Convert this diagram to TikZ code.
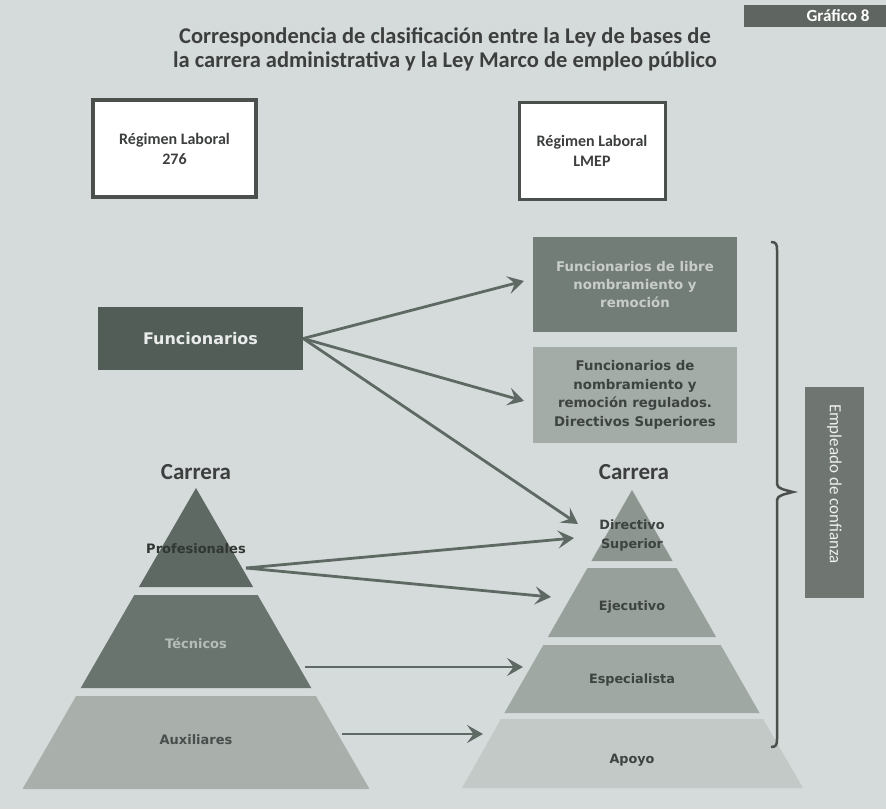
\documentclass[tikz,border=0pt]{standalone}
\usepackage{fontspec}
\setmainfont{Carlito}
\newfontfamily\lbl{DejaVu Sans}
\usetikzlibrary{arrows.meta}
\definecolor{bg}{HTML}{D5DBDA}
\definecolor{grafc}{HTML}{5F6662}
\definecolor{titlec}{HTML}{3C3F3E}
\definecolor{boxline}{HTML}{4B504D}
\definecolor{librec}{HTML}{737D77}
\definecolor{libretxt}{HTML}{C9CDCA}
\definecolor{regc}{HTML}{A4ACA7}
\definecolor{darktxt}{HTML}{3D4340}
\definecolor{funcc}{HTML}{525D58}
\definecolor{arrc}{HTML}{5E6964}
\definecolor{lpa}{HTML}{5E6963}
\definecolor{lpb}{HTML}{6A746F}
\definecolor{lpc}{HTML}{A9B0AC}
\definecolor{rpa}{HTML}{8C9590}
\definecolor{rpb}{HTML}{98A09B}
\definecolor{rpc}{HTML}{A0A8A3}
\definecolor{rpd}{HTML}{C3C9C6}
\definecolor{empc}{HTML}{6F7672}
\begin{document}
\begin{tikzpicture}[x=1pt,y=-1pt,
  arr/.style={draw=arrc, line width=2.8pt, -{Stealth[length=16pt,width=18pt,inset=6.5pt]}},
  regbox/.style={draw=boxline, fill=white, align=center, text=titlec,
     font=\bfseries\fontsize{16}{20}\selectfont},
  plabel/.style={font=\lbl\bfseries\fontsize{12.8}{19}\selectfont, text=darktxt, align=center},
  llabel/.style={font=\lbl\bfseries\fontsize{13}{15}\selectfont, align=center},
  carr/.style={font=\bfseries\fontsize{23}{26}\selectfont, text=titlec}
]
\useasboundingbox (0,0) rectangle (886,809);
\fill[bg] (0,0) rectangle (886,809);

% header
\node[fill=grafc, minimum width=142pt, minimum height=22pt, inner sep=0pt] (graf) at (815,16) {};
\node[text=white, font=\bfseries\fontsize{17}{19}\selectfont, inner sep=0pt] (graft) at (838,16) {Gráfico 8};
\node[align=center, text=titlec, font=\bfseries\fontsize{22.5}{24}\selectfont] (title) at (445,49)
  {Correspondencia de clasificación entre la Ley de bases de\\la carrera administrativa y la Ley Marco de empleo público};

% regime boxes
\node[regbox, line width=4pt, minimum width=163pt, minimum height=97pt] (r276) at (174.5,148.5) {Régimen Laboral\\276};
\node[regbox, line width=3pt, minimum width=146pt, minimum height=97pt] (rlmep) at (592,150.5) {Régimen Laboral\\LMEP};

% right boxes
\node[fill=librec, minimum width=204pt, minimum height=95pt, align=center, text=libretxt,
      font=\lbl\bfseries\fontsize{13.3}{18}\selectfont] (libre) at (635,284.5)
  {Funcionarios de libre\\nombramiento y\\remoción};
\node[fill=regc, minimum width=204pt, minimum height=96pt, align=center, text=darktxt,
      font=\lbl\bfseries\fontsize{13.3}{18.5}\selectfont] (regul) at (635,395)
  {Funcionarios de\\nombramiento y\\remoción regulados.\\Directivos Superiores};

% Funcionarios
\node[fill=funcc, minimum width=205pt, minimum height=63pt, text=white!88!funcc,
      font=\lbl\bfseries\fontsize{16}{18}\selectfont] (func) at (200.5,338.5) {Funcionarios};

% left pyramid
\fill[lpa] (196,488) -- (253.1,587) -- (138.9,587) -- cycle;
\fill[lpb] (134.3,595) -- (257.7,595) -- (311.3,688) -- (80.7,688) -- cycle;
\fill[lpc] (76.1,696) -- (315.9,696) -- (369.5,789) -- (22.5,789) -- cycle;
\node[carr] (lcar) at (196,472) {Carrera};
\node[llabel, text=darktxt!80!black] (lprof) at (196,549) {Profesionales};
\node[llabel, text=lpc!85!white] (ltec) at (196,643) {Técnicos};
\node[llabel, text=darktxt!90!lpc] (laux) at (196,740) {Auxiliares};

% right pyramid
\fill[rpa] (632,490) -- (672.6,561) -- (591.4,561) -- cycle;
\fill[rpb] (587.4,568) -- (676.6,568) -- (716.1,637) -- (547.9,637) -- cycle;
\fill[rpc] (543.3,645) -- (720.7,645) -- (759.6,713) -- (504.4,713) -- cycle;
\fill[rpd] (501,719) -- (763,719) -- (803,788) -- (462,788) -- cycle;
\node[carr] (rcar) at (634,472) {Carrera};
\node[plabel] (rdir) at (632,535) {Directivo\\Superior};
\node[plabel] (reje) at (632,607) {Ejecutivo};
\node[plabel] (resp) at (632,680) {Especialista};
\node[plabel] (rapo) at (632,760) {Apoyo};

% connector end points
\coordinate (tLibre) at (524,281);
\coordinate (tRegul) at (524,401);
\coordinate (tDir1) at (578,524);
\coordinate (sProf) at (246,568);
\coordinate (tDir2) at (574,538);
\coordinate (tEje) at (551,597);
\coordinate (sTec) at (305,667);
\coordinate (tEsp) at (523,667);
\coordinate (sAux) at (342,734);
\coordinate (tApo) at (483,734);

\draw[arr] (func.east) -- (tLibre);
\draw[arr] (func.east) -- (tRegul);
\draw[arr] (func.east) -- (tDir1);
\draw[arr] (sProf) -- (tDir2);
\draw[arr] (sProf) -- (tEje);
\draw[arr] (sTec) -- (tEsp);
\draw[arr] (sAux) -- (tApo);

% brace
\draw[draw=boxline, line width=2.5pt]
  (771,242) .. controls (776,242) and (777,244) .. (777,250) -- (777,484)
  .. controls (777,489) and (786,490) .. (793,492)
  .. controls (786,494) and (777,495) .. (777,500) -- (777,739)
  .. controls (777,745) and (776,747) .. (771,747);

% Empleado de confianza
\node[fill=empc, minimum width=59pt, minimum height=211pt] (emp) at (834.5,492.5) {};
\node[rotate=-90, text=white!88!empc, font=\fontsize{17}{20}\selectfont] (empt) at (834.5,484) {Empleado de confianza};
\end{tikzpicture}
\end{document}
